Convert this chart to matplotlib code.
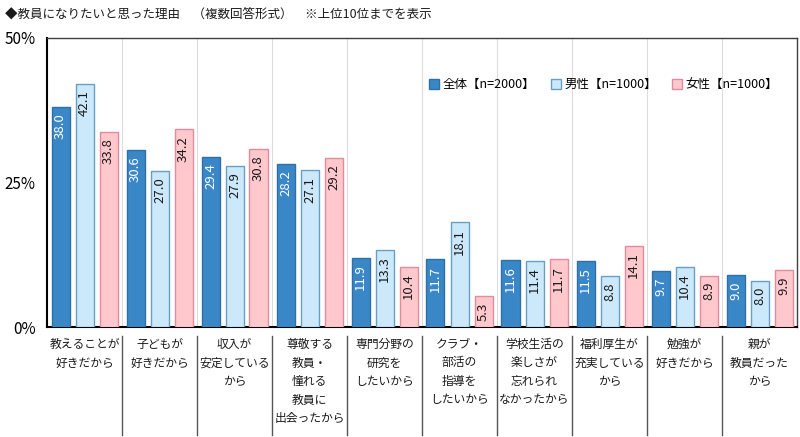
import matplotlib
matplotlib.use("Agg")
import matplotlib.pyplot as plt
import numpy as np

plt.rcParams['font.family'] = ['Noto Sans CJK JP', 'DejaVu Sans']

categories = ["教えることが\n好きだから", "子どもが\n好きだから", "収入が\n安定している\nから",
              "尊敬する\n教員・\n憧れる\n教員に\n出会ったから", "専門分野の\n研究を\nしたいから",
              "クラブ・\n部活の\n指導を\nしたいから", "学校生活の\n楽しさが\n忘れられ\nなかったから",
              "福利厚生が\n充実している\nから", "勉強が\n好きだから", "親が\n教員だった\nから"]
series_names = ["全体【n=2000】", "男性【n=1000】", "女性【n=1000】"]
total = [38.0, 30.6, 29.4, 28.2, 11.9, 11.7, 11.6, 11.5, 9.7, 9.0]
male = [42.1, 27.0, 27.9, 27.1, 13.3, 18.1, 11.4, 8.8, 10.4, 8.0]
female = [33.8, 34.2, 30.8, 29.2, 10.4, 5.3, 11.7, 14.1, 8.9, 9.9]
yticks = [0, 25, 50]
ytick_labels = ["0%", "25%", "50%"]

fills = ["#3a87c8", "#cce9fb", "#ffc8cd"]
edges = ["#2f6fa6", "#6a9fc4", "#e08c9c"]
text_colors = ["white", "#1a1a1a", "#1a1a1a"]

fig = plt.figure(figsize=(8, 4.37), dpi=100)
ax = fig.add_axes([47/800, 1-327/437, 750/800, 289/437])

n = len(categories)
x = np.arange(n)
width = 0.24
offsets = [-0.32, 0.0, 0.32]
for data, off, fc, ec, tc, name in zip([total, male, female], offsets, fills, edges, text_colors, series_names):
    ax.bar(x + off, data, width, color=fc, edgecolor=ec, linewidth=1.0, label=name, zorder=3)
    for xi, v in zip(x + off, data):
        ax.text(xi, v - 1.1, f"{v:.1f}", rotation=90, ha='center', va='top',
                color=tc, fontsize=9.5, zorder=4)

ax.set_xlim(-0.5, n - 0.5)
ax.set_ylim(0, 50)
ax.set_yticks(yticks)
ax.set_yticklabels(ytick_labels, fontsize=11)
ax.tick_params(axis='y', length=0, pad=8)
ax.set_xticks([])

for b in np.arange(0.5, n - 0.5, 1.0):
    ax.axvline(b, color="#dcdcdc", linewidth=0.8, zorder=1)
    ax.plot([b, b], [-0.03, -0.375], transform=ax.get_xaxis_transform(),
            color="#555555", linewidth=1.0, clip_on=False)

for xi, lab in zip(x, categories):
    ax.text(xi, -0.038, lab, transform=ax.get_xaxis_transform(), ha='center', va='top',
            fontsize=8.5, linespacing=1.55, color="#1a1a1a")

for s in ['top', 'right']:
    ax.spines[s].set_color("#404040")
    ax.spines[s].set_linewidth(1.0)
for s in ['left', 'bottom']:
    ax.spines[s].set_color("#000000")
    ax.spines[s].set_linewidth(1.5)

ax.legend(loc='upper right', bbox_to_anchor=(0.99, 0.9), ncol=3, frameon=False,
          fontsize=9, handlelength=0.8, handleheight=0.8, handletextpad=0.3,
          columnspacing=1.2)

fig.text(0.006, 1 - 14/437, "◆教員になりたいと思った理由　（複数回答形式）　※上位10位までを表示",
         ha='left', va='center', fontsize=9, color="#1a1a1a")

fig.savefig("out.png", dpi=100)
